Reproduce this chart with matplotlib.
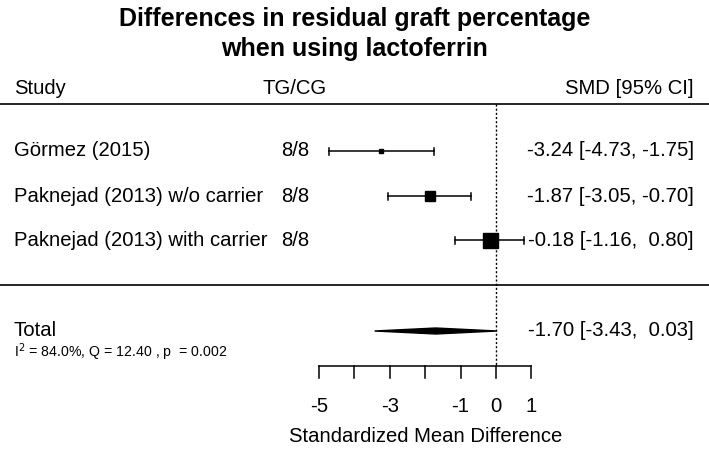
import matplotlib
matplotlib.use("Agg")
import matplotlib.pyplot as plt
from matplotlib.patches import Polygon

plt.rcParams['font.family'] = ['Liberation Sans', 'DejaVu Sans']

# data
studies = ["Görmez (2015)", "Paknejad (2013) w/o carrier", "Paknejad (2013) with carrier"]
tg_cg = ["8/8", "8/8", "8/8"]
smd = [-3.24, -1.87, -0.18]
ci_low = [-4.73, -3.05, -1.16]
ci_high = [-1.75, -0.70, 0.80]
weights = [0.10, 0.65, 1.0]   # relative box size
total_smd = -1.70
total_low = -3.43
total_high = 0.03
het_text = r"I$^2$ = 84.0%, Q = 12.40 , p  = 0.002"
ticks = [-5, -4, -3, -2, -1, 0, 1]
tick_labels = ["-5", "", "-3", "", "-1", "0", "1"]

W, H = 709, 450
fig = plt.figure(figsize=(W / 100, H / 100), dpi=100)

# main axes over the whole figure: x in SMD units, y in pixel rows
x0_px, unit_px = 496, 35.4
xmin = -x0_px / unit_px
xmax = (W - x0_px) / unit_px
ax = fig.add_axes([0, 0, 1, 1])
ax.set_xlim(xmin, xmax)
ax.set_ylim(H, 0)
ax.axis("off")

def px(x):
    return xmin + x / unit_px

fs = 14.6
row_y = [151, 196, 240]
total_y = 331

fig.text(0.5, 1 - 19 / H, "Differences in residual graft percentage", ha="center", va="center",
         fontsize=18, fontweight="bold")
fig.text(0.5, 1 - 49 / H, "when using lactoferrin", ha="center", va="center",
         fontsize=18, fontweight="bold")

ax.text(px(14), 88, "Study", ha="left", va="center", fontsize=fs)
ax.text(px(295), 88, "TG/CG", ha="center", va="center", fontsize=fs)
ax.text(px(694), 88, "SMD [95% CI]", ha="right", va="center", fontsize=fs)
ax.axhline(104, color="black", lw=1.2)
ax.axhline(285, color="black", lw=1.2)

# zero line
ax.plot([0, 0], [104, 366], color="black", lw=1, ls=(0, (1.5, 1.5)))

for i, y in enumerate(row_y):
    ax.text(px(14), y, studies[i], ha="left", va="center", fontsize=fs)
    ax.text(px(295), y, tg_cg[i], ha="center", va="center", fontsize=fs)
    ax.plot([ci_low[i], ci_high[i]], [y, y], color="black", lw=1.1)
    for c in (ci_low[i], ci_high[i]):
        ax.plot([c, c], [y - 3.5, y + 3.5], color="black", lw=1.1)
    ax.plot(smd[i], y, marker="s", color="black", markersize=2 + 8.8 * weights[i])
    label = f"{smd[i]:.2f} [{ci_low[i]:.2f}, {ci_high[i]:5.2f}]"
    ax.text(px(694), y, label, ha="right", va="center", fontsize=fs)

# pooled estimate
diamond = Polygon([[total_low, total_y], [total_smd, total_y - 3],
                   [total_high, total_y], [total_smd, total_y + 3]],
                  closed=True, facecolor="black", edgecolor="black", lw=1)
ax.add_patch(diamond)
ax.text(px(14), total_y - 1, "Total", ha="left", va="center", fontsize=fs)
ax.text(px(14), 352, het_text, ha="left", va="center", fontsize=10.2)
ax.text(px(694), total_y,
        f"{total_smd:.2f} [{total_low:.2f}, {total_high:5.2f}]",
        ha="right", va="center", fontsize=fs)

# x axis
axis_y = 366
ax.plot([ticks[0], ticks[-1]], [axis_y, axis_y], color="black", lw=1.1)
for t, lab in zip(ticks, tick_labels):
    ax.plot([t, t], [axis_y, axis_y + 12], color="black", lw=1.1)
    if lab:
        ax.text(t, 406, lab, ha="center", va="center", fontsize=fs)
ax.text(-2, 437, "Standardized Mean Difference", ha="center", va="center", fontsize=fs)

fig.savefig("out.png", dpi=100)
